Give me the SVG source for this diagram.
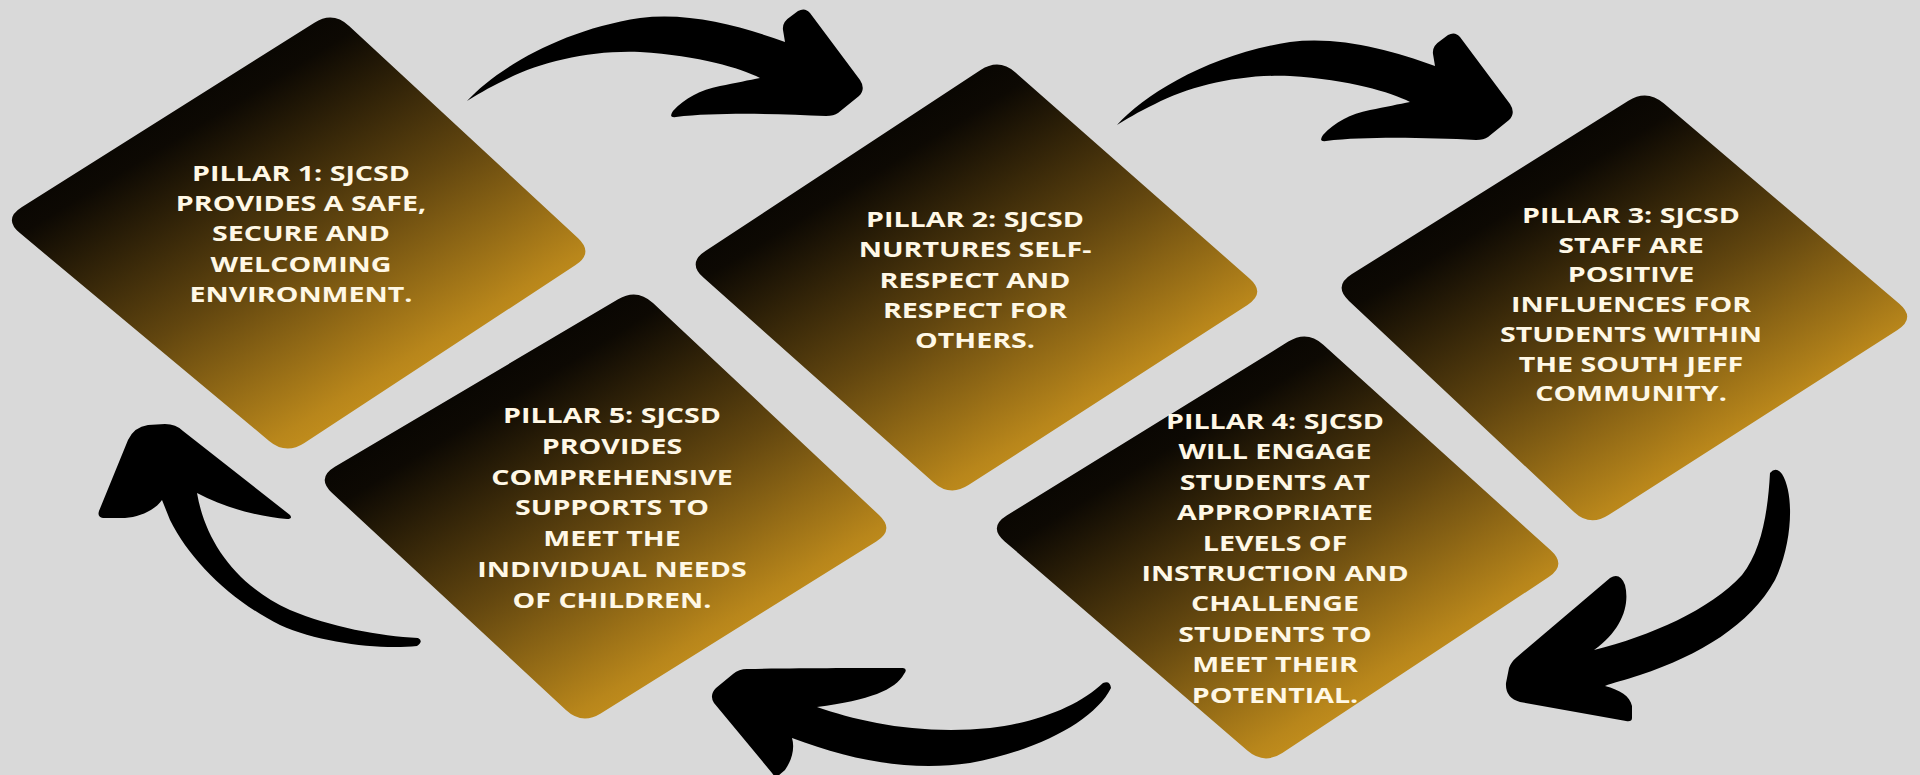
<svg xmlns="http://www.w3.org/2000/svg" width="1920" height="775" viewBox="0 0 1920 775">
<defs>
<linearGradient id="gold" x1="0.15" y1="0.1" x2="0.8" y2="0.9">
<stop offset="0" stop-color="#000000"/>
<stop offset="0.22" stop-color="#0d0903"/>
<stop offset="0.55" stop-color="#62460f"/>
<stop offset="0.85" stop-color="#b8861b"/>
<stop offset="1" stop-color="#d49c1f"/>
</linearGradient>
<path id="arrowTop" d="M467,101 C495,70 560,30 640,18 C690,12 740,26 785,42 L783,30 Q782,22 790,17 L798,11 Q805,7 810,13 L860,80 Q866,89 859,96 L838,113 Q834,116 826,116 C780,114 720,112 676,117 Q668,118 673,111 C685,98 700,90 720,86 C735,83 750,80 760,78 C740,68 700,56 640,52 C590,50 540,62 505,80 C488,88 475,96 467,101 Z"/>
</defs>
<style>
.bg{fill:#d9d9d9}
.tile{fill:url(#gold)}
.arrow{fill:#000000}
.lbl{font-family:"Open Sans","DejaVu Sans",sans-serif;font-weight:700;font-size:21.5px;fill:#fff8e6;text-anchor:middle}
</style>
<rect class="bg" x="0" y="0" width="1920" height="775"/>

<g id="pillar1">
<path class="tile" d="M314.4,22.7 Q333,11 349.1,26 L577.9,238 Q594,253 575.6,265.1 L304.4,442.9 Q286,455 269.1,440.9 L19.9,233.1 Q3,219 21.6,207.3 Z"/>
<g transform="translate(301,0) scale(1.33,1)">
<text class="lbl" x="0" y="181">PILLAR 1: SJCSD</text>
<text class="lbl" x="0" y="211">PROVIDES A SAFE,</text>
<text class="lbl" x="0" y="241">SECURE AND</text>
<text class="lbl" x="0" y="272">WELCOMING</text>
<text class="lbl" x="0" y="302">ENVIRONMENT.</text>
</g>
</g>

<g id="pillar2">
<path class="tile" d="M980.6,70.1 Q999,58 1015.5,72.5 L1249.5,278.5 Q1266,293 1247.5,304.9 L968.5,485.1 Q950,497 933.6,482.4 L703.4,277.6 Q687,263 705.4,250.9 Z"/>
<g transform="translate(975,0) scale(1.33,1)">
<text class="lbl" x="0" y="227">PILLAR 2: SJCSD</text>
<text class="lbl" x="0" y="257">NURTURES SELF-</text>
<text class="lbl" x="0" y="288">RESPECT AND</text>
<text class="lbl" x="0" y="318">RESPECT FOR</text>
<text class="lbl" x="0" y="348">OTHERS.</text>
</g>
</g>

<g id="pillar3">
<path class="tile" d="M1628.4,100.7 Q1647,89 1663.7,103.3 L1899.3,303.7 Q1916,318 1897.5,329.9 L1608.5,515.1 Q1590,527 1574,512 L1349,301 Q1333,286 1351.6,274.3 Z"/>
<g transform="translate(1631,0) scale(1.33,1)">
<text class="lbl" x="0" y="223">PILLAR 3: SJCSD</text>
<text class="lbl" x="0" y="253">STAFF ARE</text>
<text class="lbl" x="0" y="282">POSITIVE</text>
<text class="lbl" x="0" y="312">INFLUENCES FOR</text>
<text class="lbl" x="0" y="342">STUDENTS WITHIN</text>
<text class="lbl" x="0" y="372">THE SOUTH JEFF</text>
<text class="lbl" x="0" y="401">COMMUNITY.</text>
</g>
</g>

<g id="pillar4">
<path class="tile" d="M1288.3,341.6 Q1307,330 1323.3,344.7 L1550.7,550.3 Q1567,565 1548.7,577.1 L1282.3,752.9 Q1264,765 1247.3,750.6 L1004.7,541.4 Q988,527 1006.7,515.4 Z"/>
<g transform="translate(1275,0) scale(1.33,1)">
<text class="lbl" x="0" y="429">PILLAR 4: SJCSD</text>
<text class="lbl" x="0" y="459">WILL ENGAGE</text>
<text class="lbl" x="0" y="490">STUDENTS AT</text>
<text class="lbl" x="0" y="520">APPROPRIATE</text>
<text class="lbl" x="0" y="551">LEVELS OF</text>
<text class="lbl" x="0" y="581">INSTRUCTION AND</text>
<text class="lbl" x="0" y="611">CHALLENGE</text>
<text class="lbl" x="0" y="642">STUDENTS TO</text>
<text class="lbl" x="0" y="672">MEET THEIR</text>
<text class="lbl" x="0" y="703">POTENTIAL.</text>
</g>
</g>

<g id="pillar5">
<path class="tile" d="M618.1,299.2 Q637,288 653,303 L879,515 Q895,530 876.3,541.6 L600.7,713.4 Q582,725 565.9,710 L332.1,493 Q316,478 334.9,466.8 Z"/>
<g transform="translate(612,0) scale(1.33,1)">
<text class="lbl" x="0" y="423">PILLAR 5: SJCSD</text>
<text class="lbl" x="0" y="454">PROVIDES</text>
<text class="lbl" x="0" y="485">COMPREHENSIVE</text>
<text class="lbl" x="0" y="515">SUPPORTS TO</text>
<text class="lbl" x="0" y="546">MEET THE</text>
<text class="lbl" x="0" y="577">INDIVIDUAL NEEDS</text>
<text class="lbl" x="0" y="608">OF CHILDREN.</text>
</g>
</g>

<g id="connectors">
<use href="#arrowTop" class="arrow"/>
<use href="#arrowTop" class="arrow" transform="translate(650,24)"/>
<path class="arrow" d="M1770,473 Q1776,466 1782,474 C1795,495 1792,545 1775,580 C1750,625 1700,655 1640,675 C1625,680 1612,683 1605,686 C1620,690 1630,696 1632,706 L1632,718 Q1632,722 1626,721 L1520,702 Q1505,698 1506,683 L1509,668 Q1511,662 1517,657 L1610,578 Q1620,572 1625,585 C1630,605 1622,630 1594,650 C1650,636 1710,610 1742,575 C1762,550 1768,510 1770,473 Z"/>
<path class="arrow" d="M1103,683 Q1110,680 1111,688 C1095,720 1040,750 970,763 C910,772 850,760 792,738 C795,748 792,760 785,770 L778,776 Q775,778 772,773 L714,703 Q709,695 716,688 L733,674 Q739,669 747,669 C800,668 860,668 903,668 Q908,669 904,674 C895,690 870,700 817,707 C860,722 920,735 990,728 C1040,722 1080,705 1103,683 Z"/>
<path class="arrow" d="M418,638 Q424,641 417,646 C380,650 320,643 280,625 C230,600 190,560 170,520 L162,500 C155,510 140,517 125,518 L103,518 Q97,517 99,511 L128,440 Q134,427 148,425 L165,424 Q176,424 183,431 L290,515 Q293,519 287,519 C260,517 225,508 197,493 C205,540 235,585 290,610 C330,627 380,636 418,638 Z"/>
</g>
</svg>
